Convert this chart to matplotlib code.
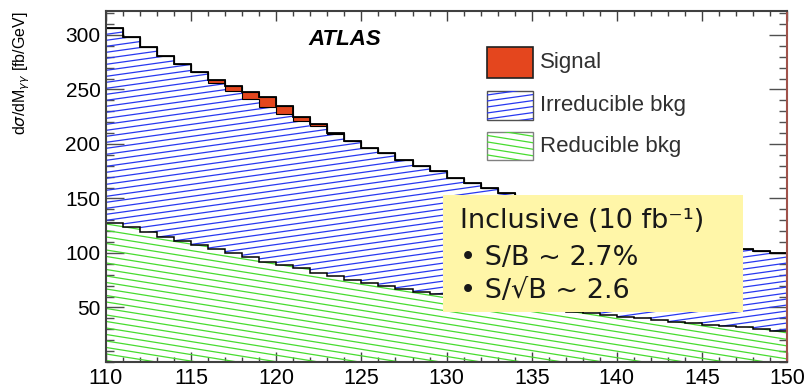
import numpy as np
import matplotlib
matplotlib.use("Agg")
import matplotlib.pyplot as plt
from matplotlib.collections import LineCollection
from matplotlib.patches import Rectangle
from matplotlib.ticker import MultipleLocator

plt.rcParams["font.family"] = ["Liberation Sans", "DejaVu Sans"]

# 1 GeV bins from 110 to 150
edges = np.arange(110, 151, 1)

# total background (irreducible + reducible), fb/GeV
bkg_total = [306.4, 297.9, 289.3, 280.7, 273.0, 265.8, 256.2, 248.2, 241.0, 234.3,
             227.9, 221.0, 216.5, 209.4, 202.7, 196.0, 191.4, 185.0, 179.6, 175.4,
             169.2, 163.8, 159.2, 155.3, 151.0, 147.0, 143.5, 140.0, 136.5, 133.0,
             129.5, 126.0, 122.5, 119.0, 115.5, 112.0, 108.5, 104.0, 102.0, 100.0]
reducible = [127.8, 124.1, 119.0, 114.4, 111.3, 107.3, 103.7, 100.3, 96.0, 92.0,
             89.0, 86.0, 82.0, 78.9, 75.2, 72.8, 69.7, 66.7, 64.5, 62.4,
             60.0, 58.0, 56.0, 54.0, 52.0, 50.0, 48.0, 46.3, 44.6, 43.0,
             41.6, 40.0, 38.5, 37.0, 35.5, 34.0, 33.0, 31.8, 30.0, 28.7]
signal = [0, 0, 0, 0, 0, 0.5, 2.5, 5.0, 7.0, 8.5,
          7.0, 4.0, 1.5, 0.3, 0, 0, 0, 0, 0, 0,
          0, 0, 0, 0, 0, 0, 0, 0, 0, 0,
          0, 0, 0, 0, 0, 0, 0, 0, 0, 0]

labels = ["Signal", "Irreducible bkg", "Reducible bkg"]
info = ["Inclusive (10 fb⁻¹)", "• S/B ~ 2.7%", "• S/√B ~ 2.6"]

bkg_total = np.array(bkg_total)
reducible = np.array(reducible)
signal = np.array(signal)
total = bkg_total + signal

BLUE = "#2838f0"
GREEN = "#48dc30"
RED = "#e4461e"

fig = plt.figure(figsize=(8.09, 3.87), dpi=100)
ax = fig.add_axes([0.131, 0.0646, 0.842, 0.907])
AX_W, AX_H = 681.0, 351.0  # axes size in pixels


def hatch(clip, slope_px, step_px, color, lw=0.9, z=2):
    # slanted lines in axes fraction, clipped to a patch
    s = slope_px * AX_W / AX_H
    dy = step_px / AX_H
    cs = np.arange(-1 - abs(s), 1 + abs(s), dy)
    segs = [[(0, c), (1, c + s)] for c in cs]
    lc = LineCollection(segs, colors=color, linewidths=lw,
                        transform=ax.transAxes, zorder=z)
    ax.add_collection(lc, autolim=False)
    lc.set_clip_path(clip)


green = ax.stairs(reducible, edges, baseline=0, fill=True,
                  facecolor="white", edgecolor="none", zorder=1)
hatch(green, -0.16, 6.5, GREEN)
blue = ax.stairs(bkg_total, edges, baseline=reducible, fill=True,
                 facecolor="white", edgecolor="none", zorder=1)
hatch(blue, 0.14, 6.0, BLUE)

ax.stairs(total, edges, baseline=bkg_total, fill=True, facecolor=RED,
          edgecolor="black", lw=0.8, zorder=3)
ax.stairs(total, edges, baseline=None, color="black", lw=1.3, zorder=4)
ax.stairs(reducible, edges, baseline=None, color="black", lw=1.1, zorder=4)

ax.set_xlim(110, 150)
ax.set_ylim(0, 322)
ax.set_xticks(np.arange(110, 151, 5))
ax.set_yticks(np.arange(50, 301, 50))
ax.xaxis.set_minor_locator(MultipleLocator(1))
ax.yaxis.set_minor_locator(MultipleLocator(10))
ax.tick_params(axis="x", which="major", direction="in", length=7, width=1,
               top=True, labelsize=15.5, pad=4, color="#404040")
ax.tick_params(axis="x", which="minor", direction="in", length=3.5, width=1,
               top=True, color="#404040")
ax.tick_params(axis="y", which="major", direction="in", length=13, width=1,
               right=True, labelsize=15, pad=4, color="#505050")
ax.tick_params(axis="y", which="minor", direction="in", length=6, width=1,
               right=True, color="#505050")
for sp in ax.spines.values():
    sp.set_linewidth(1.5)
    sp.set_color("#404040")
    sp.set_zorder(10)
ax.spines["right"].set_color("#a0524a")

ax.set_ylabel(r"d$\sigma$/dM$_{\gamma\gamma}$ [fb/GeV]", fontsize=11.5,
              loc="top")
ax.yaxis.set_label_coords(-0.108, 1.0)

ax.text(0.297, 0.92, "ATLAS", transform=ax.transAxes, fontsize=16,
        fontweight="bold", fontstyle="italic", va="center", ha="left",
        zorder=6)

# legend drawn by hand (the hatching is custom)
box_x, box_w = 0.559, 0.068
rows = [(0.809, 0.088), (0.689, 0.083), (0.575, 0.080)]
text_y = [0.852, 0.732, 0.615]
r0 = Rectangle((box_x, rows[0][0]), box_w, rows[0][1], transform=ax.transAxes,
               facecolor=RED, edgecolor="#202020", lw=1.2, zorder=6)
ax.add_patch(r0)
r1 = Rectangle((box_x, rows[1][0]), box_w, rows[1][1], transform=ax.transAxes,
               facecolor="white", edgecolor="#505050", lw=1.0, zorder=5)
ax.add_patch(r1)
hatch(r1, 0.14, 6.0, BLUE, z=6)
r2 = Rectangle((box_x, rows[2][0]), box_w, rows[2][1], transform=ax.transAxes,
               facecolor="white", edgecolor="#808080", lw=1.0, zorder=5)
ax.add_patch(r2)
hatch(r2, -0.16, 6.5, GREEN, z=6)
for lab, ty in zip(labels, text_y):
    ax.text(0.637, ty, lab, transform=ax.transAxes, fontsize=16,
            color="#303030", va="center", ha="left", zorder=7)

# yellow info box
ax.add_patch(Rectangle((0.495, 0.142), 0.44, 0.334, transform=ax.transAxes,
                       facecolor="#fff6a8", edgecolor="none", zorder=8))
for line, ty in zip(info, [0.402, 0.297, 0.203]):
    ax.text(0.52, ty, line, transform=ax.transAxes, fontsize=19.5,
            family="DejaVu Sans", color="#181818", va="center", ha="left",
            zorder=9)

fig.savefig("out.png", dpi=100)
